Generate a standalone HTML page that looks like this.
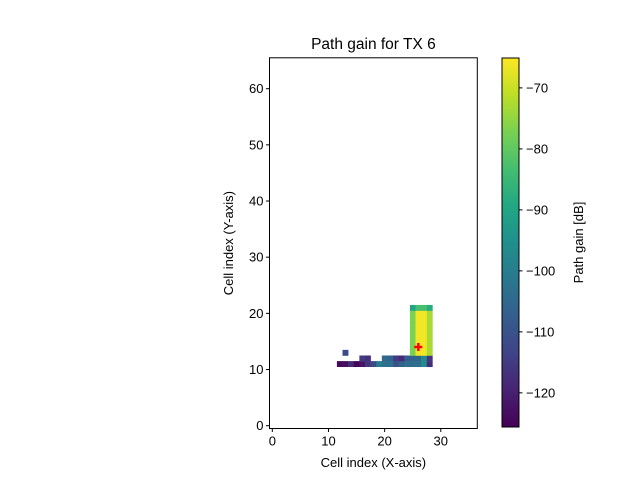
<!DOCTYPE html>
<html><head><meta charset="utf-8"><style>
body{margin:0;background:#fff}
svg{display:block;font-family:"Liberation Sans","DejaVu Sans",sans-serif}
</style></head><body>
<svg id="c" width="640" height="480" viewBox="0 0 640 480"></svg>
<script>
const xTicks=[0,10,20,30];
const yTicks=[0,10,20,30,40,50,60];
const cbTicks=[-70,-80,-90,-100,-110,-120];
const cellX=[12,13,14,15,16,17,18,19,20,21,22,23,24,25,26,27,28];
const row11=[-124,-123,-118,-125,-122,-116,-112,-100,-103,-103,-110,-106,-104,-104,-104,-96,-118];
const row12X=[16,17,20,21,22,23,24,25,26,27,28];
const row12=[-115,-117,-105,-106,-115,-118,-108,-106,-106,-97,-116];
const isoX=[13];const isoY=[13];const isoV=[-112];
const tallX=[25,26,27,28];
const tallBody=[-77,-66,-66,-73];
const tallTop=[-90,-83,-83,-88];
const tx=[26],ty=[14];
const vmin=-125.6,vmax=-65.1;
const X0=269.5,X1=477.3,Y0=57.8,Y1=428.5,xmin=-0.5,xmax=36.5,ymin=-0.5,ymax=65.5;
const sx=v=>X0+(v-xmin)/(xmax-xmin)*(X1-X0);
const sy=v=>Y1-(v-ymin)/(ymax-ymin)*(Y1-Y0);
const VS=[[68,1,84],[72,35,116],[64,67,135],[52,94,141],[41,120,142],[32,144,140],[34,167,132],[68,190,112],[121,209,81],[189,222,38],[253,231,37]];
function vir(t){t=Math.max(0,Math.min(1,t))*10;const i=Math.min(9,Math.floor(t)),f=t-i;const a=VS[i],b=VS[i+1];return `rgb(${a.map((c,k)=>Math.round(c+(b[k]-c)*f)).join(',')})`;}
const col=v=>vir((v-vmin)/(vmax-vmin));
const svg=document.getElementById('c');const NS='http://www.w3.org/2000/svg';
function mk(tag,at,txt){const e=document.createElementNS(NS,tag);for(const k in at)e.setAttribute(k,at[k]);if(txt!==undefined)e.textContent=txt;svg.appendChild(e);return e;}
function cell(x,y,v){const e=mk('rect',{x:sx(x-0.5),y:sy(y+0.5),width:sx(x+0.5)-sx(x-0.5)+0.3,height:sy(y-0.5)-sy(y+0.5)+0.3,fill:col(v)});

}
cellX.forEach((x,i)=>cell(x,11,row11[i]));
row12X.forEach((x,i)=>cell(x,12,row12[i]));
isoX.forEach((x,i)=>cell(x,isoY[i],isoV[i]));
tallX.forEach((x,i)=>{for(let y=13;y<=20;y++)cell(x,y,tallBody[i]);cell(x,21,tallTop[i]);});
tx.forEach((x,i)=>{const cx=sx(x),cy=sy(ty[i]);const g=mk('path',{d:`M${cx-4} ${cy}H${cx+4}M${cx} ${cy-4}V${cy+4}`,stroke:'#f00','stroke-width':2.5});

});
const fr=mk('rect',{x:X0,y:Y0,width:X1-X0,height:Y1-Y0,fill:'none',stroke:'#000','stroke-width':1});

xTicks.forEach(t=>{const x=sx(t);mk('line',{x1:x,x2:x,y1:Y1,y2:Y1+3.5,stroke:'#000'});const e=mk('text',{x:x,y:Y1+17,'font-size':13,'text-anchor':'middle'},t);
});
yTicks.forEach(t=>{const y=sy(t);mk('line',{x1:X0,x2:X0-3.5,y1:y,y2:y,stroke:'#000'});const e=mk('text',{x:X0-6,y:y+4.5,'font-size':13,'text-anchor':'end'},t);
});
const xt=mk('text',{x:(X0+X1)/2,y:467,'font-size':13,'text-anchor':'middle'},'Cell index (X-axis)');

const yt=mk('text',{x:233,y:(Y0+Y1)/2,'font-size':13,'text-anchor':'middle',transform:`rotate(-90 233 ${(Y0+Y1)/2})`},'Cell index (Y-axis)');

const ti=mk('text',{x:(X0+X1)/2,y:49,'font-size':15.5,'text-anchor':'middle'},'Path gain for TX 6');

const CX0=502,CX1=519;
const defs=mk('defs',{});const lg=document.createElementNS(NS,'linearGradient');lg.setAttribute('id','vg');lg.setAttribute('x1','0');lg.setAttribute('y1','1');lg.setAttribute('x2','0');lg.setAttribute('y2','0');defs.appendChild(lg);
VS.forEach((c,i)=>{const s=document.createElementNS(NS,'stop');s.setAttribute('offset',i/10);s.setAttribute('stop-color',`rgb(${c.join(',')})`);lg.appendChild(s);});
const cb=mk('rect',{x:CX0,y:58,width:CX1-CX0,height:427-58,fill:'url(#vg)',stroke:'#000','stroke-width':1});

const cy=v=>427-(v-vmin)/(vmax-vmin)*(427-58);
cbTicks.forEach(t=>{const y=cy(t);mk('line',{x1:CX1,x2:CX1+3.5,y1:y,y2:y,stroke:'#000'});const e=mk('text',{x:CX1+7,y:y+4.5,'font-size':13},'\u2212'+Math.abs(t));
});
const ct=mk('text',{x:583,y:(58+427)/2,'font-size':13,'text-anchor':'middle',transform:`rotate(-90 583 ${(58+427)/2})`},'Path gain [dB]');

</script>
</body></html>
